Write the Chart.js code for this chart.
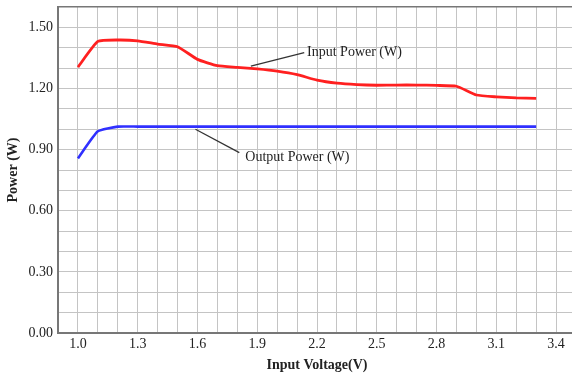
<!DOCTYPE html>
<html>
<head>
<meta charset="utf-8">
<script src="https://cdn.jsdelivr.net/npm/chart.js@4.4.0/dist/chart.umd.min.js"></script>
<style>
  html, body { margin: 0; padding: 0; background: #fff; overflow: hidden; }
  #wrap { width: 580px; height: 376px; }
</style>
</head>
<body>
<div id="wrap"><canvas id="c" width="580" height="376"></canvas></div>
<script>
const inputVoltage = [1.0, 1.1, 1.2, 1.3, 1.4, 1.5, 1.6, 1.7, 1.8, 1.9, 2.0, 2.1, 2.2, 2.3, 2.4, 2.5, 2.6, 2.7, 2.8, 2.9, 3.0, 3.1, 3.2, 3.3];
const inputPower = [1.305, 1.431, 1.438, 1.434, 1.418, 1.405, 1.343, 1.312, 1.304, 1.296, 1.285, 1.268, 1.241, 1.226, 1.219, 1.216, 1.217, 1.217, 1.215, 1.211, 1.168, 1.159, 1.154, 1.152];
const outputPower = [0.857, 0.990, 1.013, 1.013, 1.013, 1.013, 1.013, 1.013, 1.013, 1.013, 1.013, 1.013, 1.013, 1.013, 1.013, 1.013, 1.013, 1.013, 1.013, 1.013, 1.013, 1.013, 1.013, 1.013];
const xTickLabels = ['1.0', '1.3', '1.6', '1.9', '2.2', '2.5', '2.8', '3.1', '3.4'];
const yTickLabels = ['0.00', '0.30', '0.60', '0.90', '1.20', '1.50'];

// annotation labels with leader lines (in data coordinates)
const annotations = [
  { text: 'Input Power (W)', tx: 2.15, ty: 1.377, from: [1.868, 1.310], to: [2.136, 1.376] },
  { text: 'Output Power (W)', tx: 1.84, ty: 0.860, from: [1.590, 1.000], to: [1.810, 0.885] }
];

const serif = '"Liberation Serif", "Times New Roman", serif';

const annotationPlugin = {
  id: 'annot',
  afterDatasetsDraw(chart) {
    const ctx = chart.ctx;
    const xs = chart.scales.x, ys = chart.scales.y;
    ctx.save();
    annotations.forEach(a => {
      ctx.strokeStyle = '#333';
      ctx.lineWidth = 1.3;
      ctx.beginPath();
      ctx.moveTo(xs.getPixelForValue(a.from[0]), ys.getPixelForValue(a.from[1]));
      ctx.lineTo(xs.getPixelForValue(a.to[0]), ys.getPixelForValue(a.to[1]));
      ctx.stroke();
      ctx.fillStyle = '#222';
      ctx.font = '14px ' + serif;
      ctx.textAlign = 'left';
      ctx.textBaseline = 'middle';
      ctx.fillText(a.text, xs.getPixelForValue(a.tx), ys.getPixelForValue(a.ty));
    });
    ctx.restore();
  }
};

new Chart(document.getElementById('c'), {
  type: 'line',
  data: {
    datasets: [
      {
        label: 'Input Power (W)',
        data: inputVoltage.map((x, i) => ({ x, y: inputPower[i] })),
        borderColor: '#ff2020',
        borderWidth: 2.8,
        pointRadius: 0,
        tension: 0.15,
        fill: false
      },
      {
        label: 'Output Power (W)',
        data: inputVoltage.map((x, i) => ({ x, y: outputPower[i] })),
        borderColor: '#3030ff',
        borderWidth: 2.6,
        pointRadius: 0,
        tension: 0.15,
        fill: false
      }
    ]
  },
  options: {
    responsive: false,
    animation: false,
    layout: { padding: { top: 7, right: 4, left: 0, bottom: 0 } },
    plugins: { legend: { display: false }, tooltip: { enabled: false } },
    scales: {
      x: {
        type: 'linear',
        min: 0.9,
        max: 3.5,
        afterFit(s) { s.height = 43; s.paddingLeft = 0; s.paddingRight = 0; },
        ticks: {
          stepSize: 0.1,
          autoSkip: false,
          maxRotation: 0,
          padding: 3,
          color: '#222',
          font: { family: serif, size: 14 },
          callback(v) {
            const n = Math.round(v * 10);
            const s = (n / 10).toFixed(1);
            return xTickLabels.includes(s) && (n - 10) % 3 === 0 ? s : '';
          }
        },
        grid: { color: '#c4c4c4', lineWidth: 1, drawTicks: false },
        border: { color: '#777', width: 2 },
        title: {
          display: true,
          text: 'Input Voltage(V)',
          color: '#222',
          font: { family: serif, size: 14, weight: 'bold' },
          padding: { top: 0, bottom: 2 }
        }
      },
      y: {
        min: 0,
        max: 1.6,
        afterFit(s) { s.width = 58; s.paddingTop = 0; s.paddingBottom = 0; },
        ticks: {
          stepSize: 0.1,
          autoSkip: false,
          padding: 5,
          color: '#222',
          font: { family: serif, size: 14 },
          callback(v) {
            const n = Math.round(v * 10);
            const s = (n / 10).toFixed(2);
            return yTickLabels.includes(s) && n % 3 === 0 ? s : '';
          }
        },
        grid: {
          color: (c) => (c.tick && Math.round(c.tick.value * 10) === 16 ? '#777' : '#c4c4c4'),
          lineWidth: (c) => (c.tick && Math.round(c.tick.value * 10) === 16 ? 1.5 : 1),
          drawTicks: false
        },
        border: { color: '#777', width: 2 },
        title: {
          display: true,
          text: 'Power (W)',
          color: '#222',
          font: { family: serif, size: 14, weight: 'bold' },
          padding: { top: 5, bottom: 0 }
        }
      }
    }
  },
  plugins: [annotationPlugin]
});
</script>
</body>
</html>
